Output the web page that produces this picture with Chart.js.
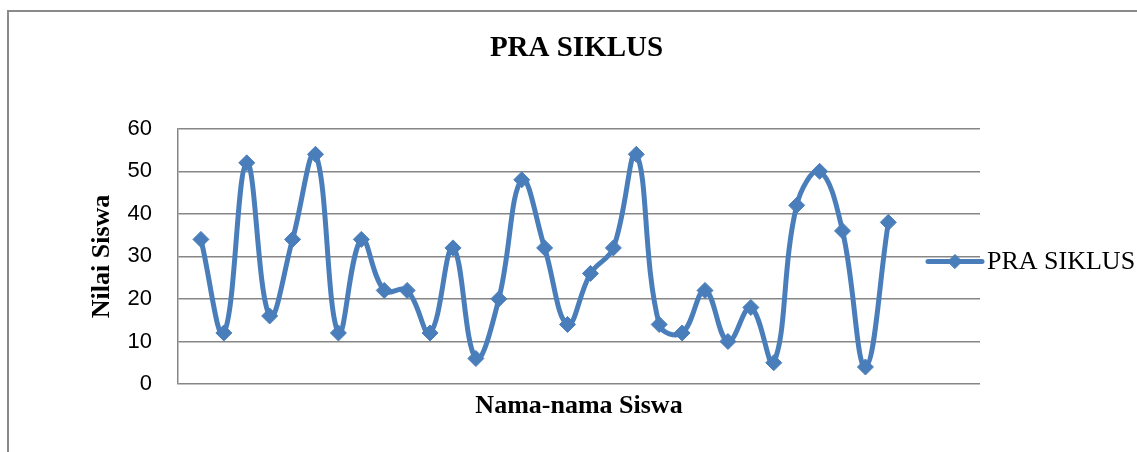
<!DOCTYPE html>
<html lang="id">
<head>
  <meta charset="UTF-8" />
  <title>PRA SIKLUS</title>
  <script src="https://cdn.jsdelivr.net/npm/chart.js"></script>
  <style>
    body {
      margin: 0;
      background: white;
    }
    .frame {
      position: absolute;
      left: 7px;
      top: 10px;
      width: 1140px;
      height: 450px;
      border-left: 2px solid #8a8a8a;
      border-top: 2px solid #8a8a8a;
    }
    canvas {
      position: absolute;
      left: 0;
      top: 0;
    }
  </style>
</head>
<body>
<div class="frame"></div>
<canvas id="praChart" width="1137" height="452"></canvas>

<script>
  // categories: empty slot first and a few empty slots at the end, like the original sheet
  const siswa = ['', '1', '2', '3', '4', '5', '6', '7', '8', '9', '10',
    '11', '12', '13', '14', '15', '16', '17', '18', '19', '20',
    '21', '22', '23', '24', '25', '26', '27', '28', '29', '30', '31',
    '', '', '', ''];
  const nilaiPraSiklus = [null, 34, 12, 52, 16, 34, 54, 12, 34, 22, 22,
    12, 32, 6, 20, 48, 32, 14, 26, 32, 54,
    14, 12, 22, 10, 18, 5, 42, 50, 36, 4, 38,
    null, null, null, null];
  const yTicks = [0, 10, 20, 30, 40, 50, 60];

  const blue = '#4a7ebb';
  const gridGray = '#868686';

  // legend drawn like the spreadsheet one: line with a diamond, overlapping the plot edge
  const sideLegend = {
    id: 'sideLegend',
    afterDraw(chart) {
      const ctx = chart.ctx;
      const area = chart.chartArea;
      const ds = chart.data.datasets[0];
      const y = (area.top + area.bottom) / 2 + 5;
      const x0 = area.right - 52;
      const x1 = area.right + 2;
      ctx.save();
      ctx.strokeStyle = blue;
      ctx.lineWidth = 5;
      ctx.lineCap = 'round';
      ctx.beginPath();
      ctx.moveTo(x0, y);
      ctx.lineTo(x1, y);
      ctx.stroke();
      ctx.fillStyle = blue;
      ctx.lineWidth = 1;
      Chart.helpers.drawPoint(ctx, {pointStyle: 'rectRot', radius: 7, borderWidth: 1}, (x0 + x1) / 2, y);
      ctx.fillStyle = '#000';
      ctx.font = '26px "Liberation Serif"';
      ctx.textBaseline = 'middle';
      ctx.textAlign = 'left';
      ctx.fillText(ds.label, x1 + 5, y + 1);
      ctx.restore();
    }
  };

  const ctx = document.getElementById('praChart').getContext('2d');
  new Chart(ctx, {
    type: 'line',
    data: {
      labels: siswa,
      datasets: [{
        label: 'PRA SIKLUS',
        data: nilaiPraSiklus,
        borderColor: blue,
        backgroundColor: blue,
        borderWidth: 5,
        tension: 0.4,
        pointStyle: 'rectRot',
        pointRadius: 8,
        pointBorderWidth: 1,
        pointBackgroundColor: blue,
        pointBorderColor: blue,
        fill: false
      }]
    },
    options: {
      responsive: false,
      animation: false,
      layout: {
        padding: {left: 16, right: 0, top: 0, bottom: 0}
      },
      plugins: {
        legend: {display: false},
        tooltip: {enabled: false},
        title: {
          display: true,
          text: 'PRA SIKLUS',
          color: '#000',
          font: {family: '"Liberation Serif"', size: 29, weight: 'bold'},
          padding: {top: 31, bottom: 63}
        }
      },
      scales: {
        x: {
          type: 'category',
          offset: false,
          grid: {display: false, drawTicks: false, tickLength: 0},
          border: {display: false},
          ticks: {display: false},
          title: {
            display: true,
            text: 'Nama-nama Siswa',
            color: '#000',
            font: {family: '"Liberation Serif"', size: 26, weight: 'bold'},
            padding: {top: 0, bottom: 30}
          },
          afterFit(scale) { scale.height = 68; }
        },
        y: {
          min: 0,
          max: 60,
          afterBuildTicks(scale) {
            scale.ticks = yTicks.map(v => ({value: v}));
          },
          grid: {color: gridGray, lineWidth: 1.5, drawTicks: false, tickLength: 0},
          border: {display: true, color: gridGray, width: 1.5},
          ticks: {
            color: '#000',
            padding: 26,
            font: {family: '"Liberation Sans"', size: 22}
          },
          title: {
            display: true,
            text: 'Nilai Siswa',
            color: '#000',
            font: {family: '"Liberation Serif"', size: 26, weight: 'bold'},
            padding: {top: 71, bottom: 0}
          },
          afterFit(scale) { scale.width = 162; }
        },
        ruang: {
          type: 'linear',
          position: 'right',
          display: true,
          grid: {display: false, drawTicks: false},
          border: {display: false},
          ticks: {display: false},
          afterFit(scale) { scale.width = 157; }
        }
      }
    },
    plugins: [sideLegend]
  });
</script>
</body>
</html>
